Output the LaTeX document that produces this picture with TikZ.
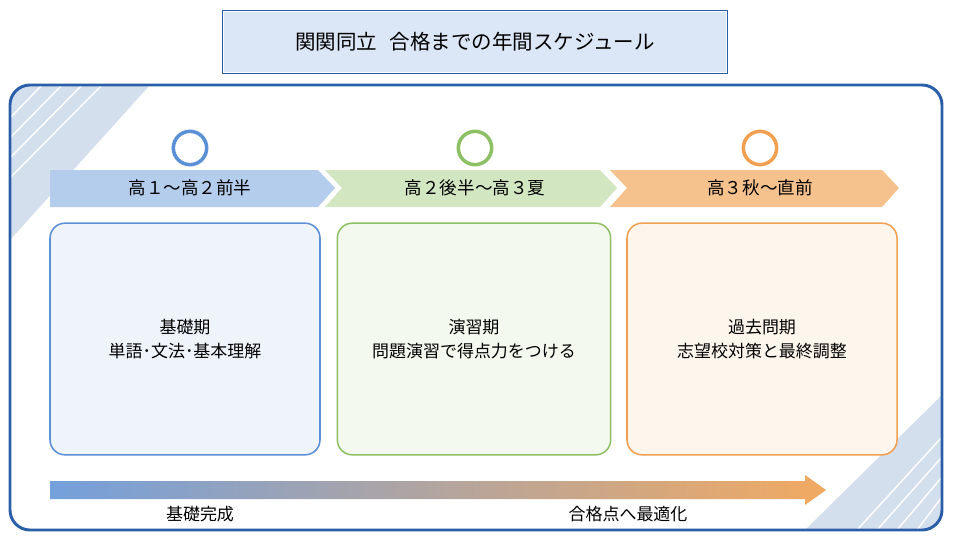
\documentclass[tikz,border=0pt]{standalone}
\usepackage{fontspec}
\setmainfont{Noto Sans CJK JP}
\usetikzlibrary{positioning,backgrounds}
\definecolor{frameblue}{HTML}{2A5EA8}
\definecolor{pblue}{HTML}{5B8FD6}
\definecolor{pgreen}{HTML}{8CC063}
\definecolor{porange}{HTML}{F0A050}
\tikzset{%
phasering/.style={circle, draw=#1, line width=3pt, fill=white, minimum size=1.0cm, inner sep=0pt},
phasebox/.style={draw=#1, line width=1.3pt, rounded corners=0.45cm, fill=#1!10, minimum width=8.1cm, minimum height=6.95cm, align=center, font=\fontsize{14.5}{21}\selectfont},
phaselabel/.style={font=\fontsize{15}{17}\selectfont, inner sep=0pt},
stripe/.style={draw=white, line width=1.2pt}
}
\begin{document}
\begin{tikzpicture}[x=0.03cm, y=-0.03cm]
		\useasboundingbox (0,0) rectangle (955,538);
		\fill[white] (0,0) rectangle (955,538);
		% title
		\node[draw=frameblue, double=white, double distance=1pt, fill=pblue!22, minimum width=15.1cm, minimum height=1.85cm, font=\fontsize{17.5}{19}\selectfont] (title) at (475,42) {関関同立\hspace{0.6em}合格までの年間スケジュール};
		% frame with corner stripes
		\begin{scope}
			\clip[rounded corners=0.6cm] (10,85) rectangle (942,530);
			\fill[frameblue!20] (10,85) -- (150,85) -- (10,240) -- cycle;
			\fill[frameblue!20] (942,395) -- (942,530) -- (805,530) -- cycle;
			\foreach \d in {0,20,40,60} {
				\draw[stripe] (10,118+\d) -- (42+\d,85);
				\draw[stripe] (942,437+\d) -- (857+\d,530);
			}
		\end{scope}
		\draw[frameblue, line width=2.5pt, rounded corners=0.6cm] (10,85) rectangle (942,530);
		% chevrons
		\fill[pblue!45] (50,170) -- (318,170) -- (335,188) -- (318,207) -- (50,207) -- cycle;
		\fill[pgreen!40] (325,170) -- (600,170) -- (617,188) -- (600,207) -- (325,207) -- (342,188) -- cycle;
		\fill[porange!65] (610,170) -- (882,170) -- (899,188) -- (882,207) -- (610,207) -- (627,188) -- cycle;
		\node[phaselabel] (lab1) at (190,188) {高１〜高２前半};
		\node[phaselabel] (lab2) at (475,188) {高２後半〜高３夏};
		\node[phaselabel] (lab3) at (760,188) {高３秋〜直前};
		\node[phasering=pblue] (ring1) at (190,148) {};
		\node[phasering=pgreen] (ring2) at (475,148) {};
		\node[phasering=porange] (ring3) at (760,148) {};
		% boxes
		\node[phasebox=pblue] (box1) at (185,339) {基礎期\\単語･文法･基本理解};
		\node[phasebox=pgreen, minimum width=8.2cm] (box2) at (474,339) {演習期\\問題演習で得点力をつける};
		\node[phasebox=porange, minimum width=8.1cm] (box3) at (762,339) {過去問期\\志望校対策と最終調整};
		% progress arrow
		\shade[left color=pblue!85, middle color=pgreen!60!porange!80, right color=porange!90] (50,481) -- (805,481) -- (805,475) -- (826,490) -- (805,505) -- (805,499) -- (50,499) -- cycle;
		\node[font=\fontsize{14.5}{16}\selectfont] (start) at (200,514) {基礎完成};
		\node[font=\fontsize{14.5}{16}\selectfont] (goal) at (628,514) {合格点へ最適化};
	\end{tikzpicture}
\end{document}
